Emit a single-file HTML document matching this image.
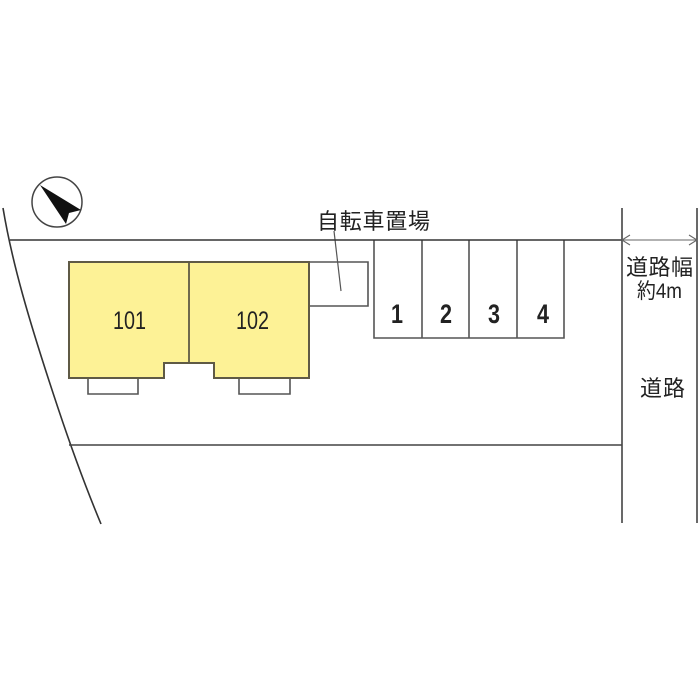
<!DOCTYPE html>
<html><head><meta charset="utf-8"><style>html,body{margin:0;padding:0;background:#fff}svg{display:block}text{font-family:"Liberation Sans","Noto Sans CJK JP",sans-serif;fill:#222}</style></head><body>
<svg width="700" height="700" viewBox="0 0 700 700" xmlns="http://www.w3.org/2000/svg">
<rect width="700" height="700" fill="#fff"/>
<g fill="none" stroke="#555" stroke-width="1.6">
<path d="M88 379V394H138V379M239 379V394H290V379" />
<path d="M309 262H368V306H309"/>
<path d="M374 240V338H564V240M422 240V338M469 240V338M517 240V338"/>
<path d="M334 231L341 291" stroke-width="1.2"/>
</g>
<path d="M69 262H309V378H214V363H164V378H69Z" fill="#fdf296" stroke="#5f5a45" stroke-width="2"/>
<path d="M189 262V363" stroke="#5f5a45" stroke-width="1.8"/>
<path d="M10 240H622" stroke="#333" stroke-width="1.6" fill="none"/>
<path d="M3 208C12 262 28 318 58 408C72 450 86 488 101 524" stroke="#333" stroke-width="1.6" fill="none"/>
<path d="M69 445H622" stroke="#444" stroke-width="1.6" fill="none"/>
<path d="M622 208V523M697 208V523" stroke="#444" stroke-width="1.6" fill="none"/>
<path d="M622 240H697M630 235L622 240L630 245M689 235L697 240L689 245" stroke="#666" stroke-width="1.1" fill="none"/>
<circle cx="57" cy="202" r="25" fill="#fff" stroke="#444" stroke-width="1.5"/>
<path d="M40 185L81 210L69 213L66 224Z" fill="#111"/>
<g font-size="25">
<text x="113" y="329" textLength="33" lengthAdjust="spacingAndGlyphs">101</text>
<text x="236" y="329" textLength="33" lengthAdjust="spacingAndGlyphs">102</text>
</g>
<g font-size="27" font-weight="700">
<text x="391" y="323" textLength="12" lengthAdjust="spacingAndGlyphs">1</text>
<text x="440" y="323" textLength="12" lengthAdjust="spacingAndGlyphs">2</text>
<text x="488" y="323" textLength="12" lengthAdjust="spacingAndGlyphs">3</text>
<text x="537" y="323" textLength="12" lengthAdjust="spacingAndGlyphs">4</text>
</g>
<text x="317" y="229" font-size="22" textLength="113">自転車置場</text>
<text x="626" y="275" font-size="22" textLength="67">道路幅</text>
<text x="637" y="298" font-size="21" textLength="45" lengthAdjust="spacingAndGlyphs">約4m</text>
<text x="640" y="396" font-size="22" textLength="45">道路</text>
</svg>
</body></html>
